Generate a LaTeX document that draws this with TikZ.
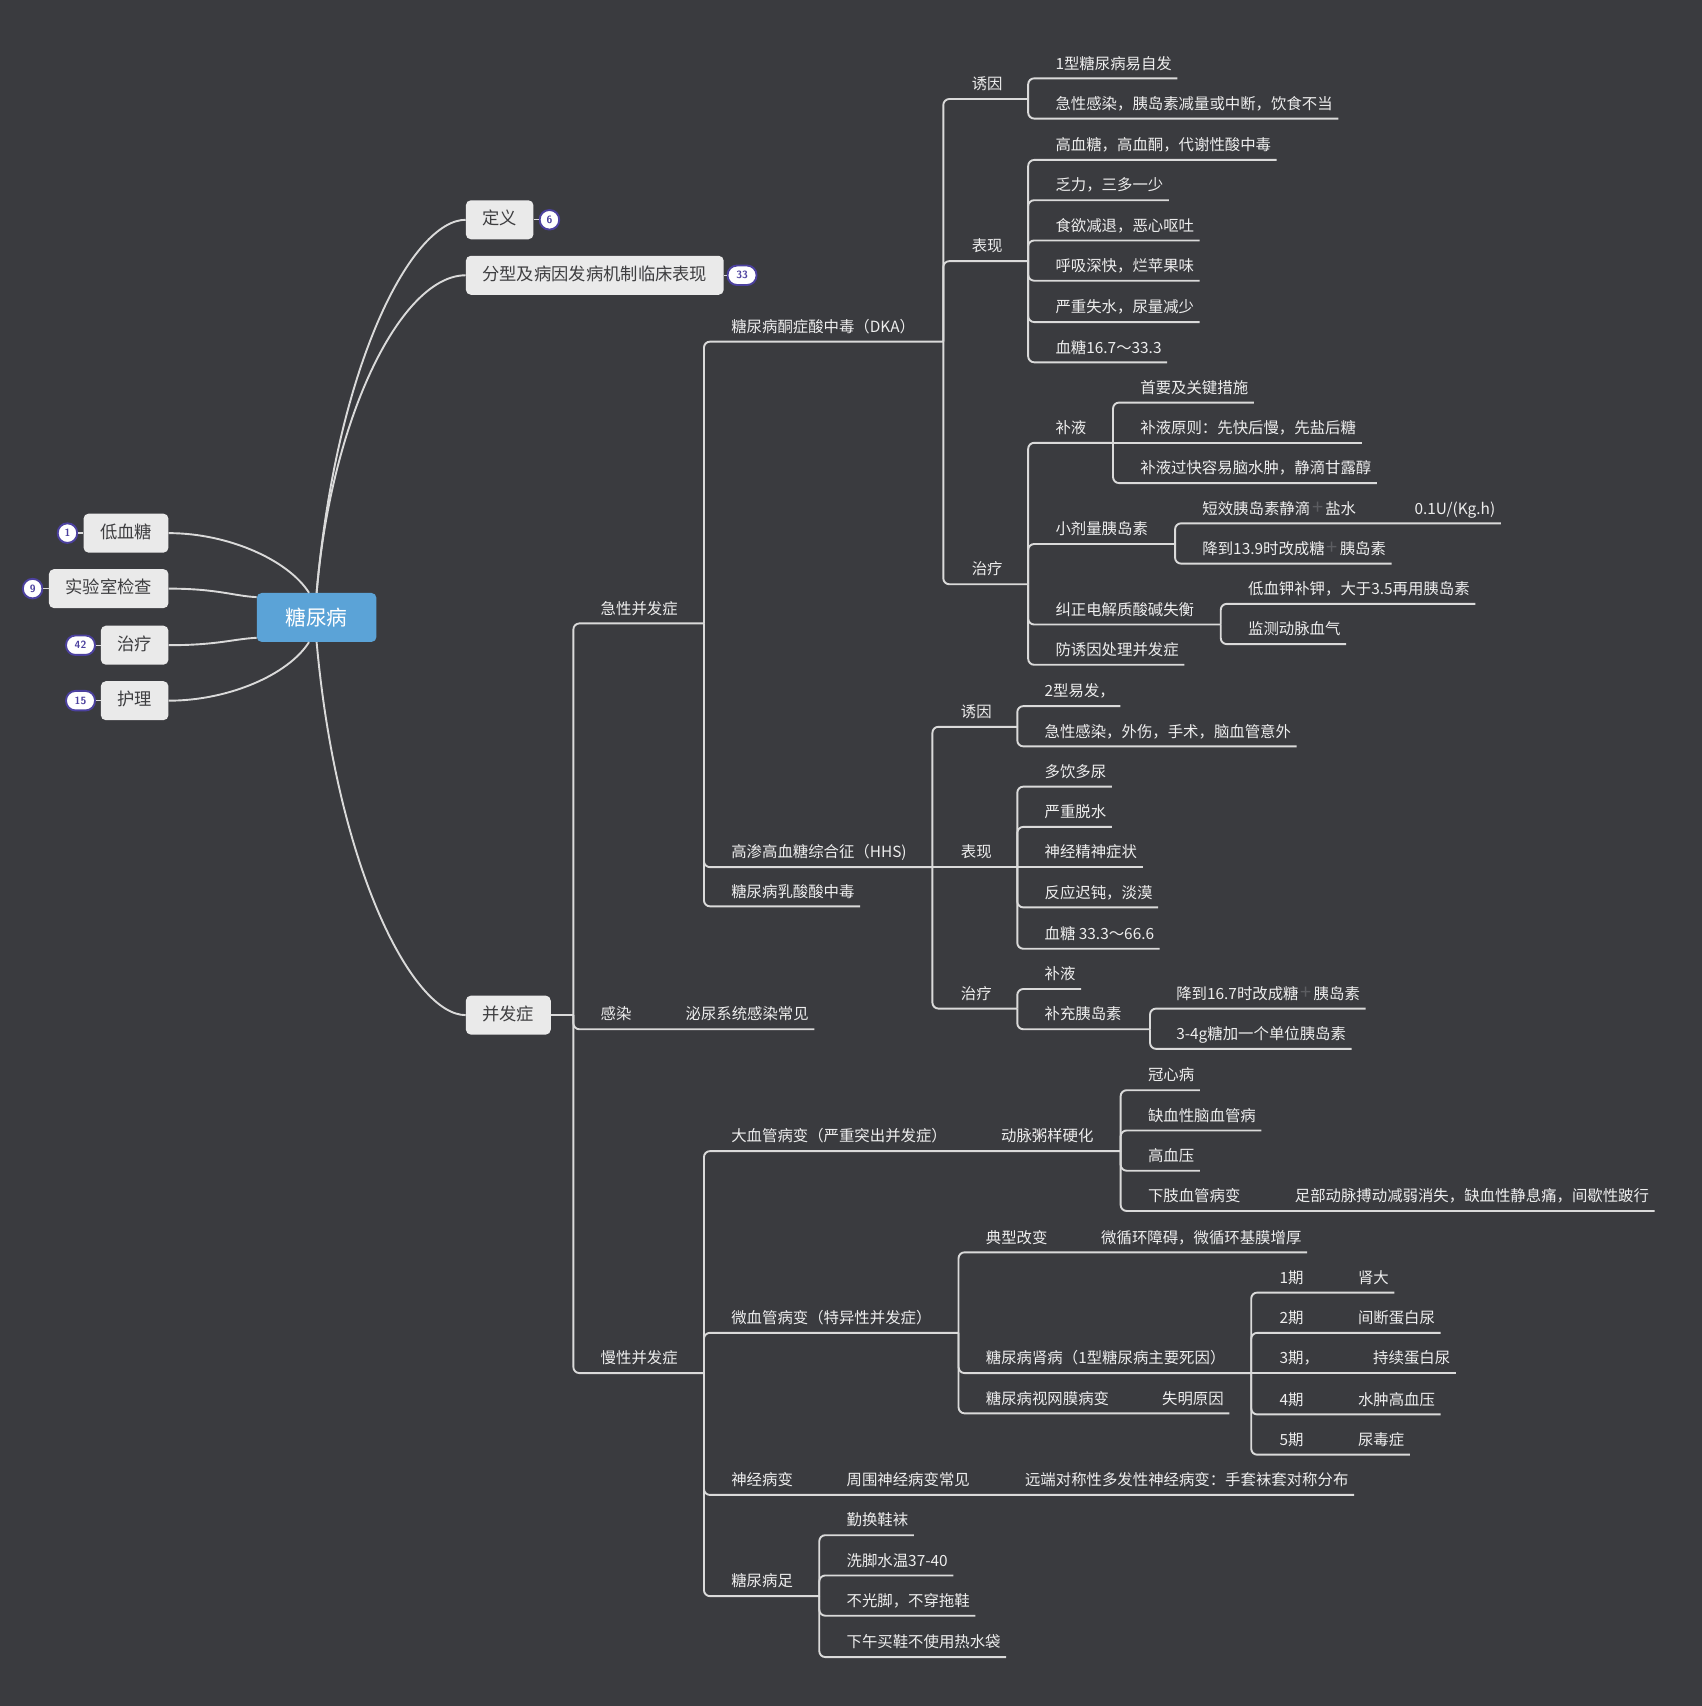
\documentclass[tikz,border=0pt]{standalone}
\usepackage{fontspec}
\usepackage{xcolor}
\usepackage{tikz}
\usetikzlibrary{calc}
\newfontfamily\cjk{Noto Sans CJK SC}
\definecolor{bg}{HTML}{3A3B3F}
\definecolor{wire}{HTML}{DADADA}
\definecolor{ink}{HTML}{EEEEEE}
\definecolor{boxfill}{HTML}{EAEAEA}
\definecolor{boxink}{HTML}{3E3E40}
\definecolor{rootblue}{HTML}{5BA3D7}
\definecolor{badgeink}{HTML}{4C419F}
\definecolor{plusgray}{HTML}{5C5D61}
\newcommand{\plusicon}{\hspace{2pt}\textcolor{plusgray}{\fontsize{20pt}{20pt}\selectfont +}\hspace{2pt}}
\tikzset{
  branch/.style={draw=wire, line width=1.9pt, rounded corners=6pt},
  curve/.style={draw=wire, line width=1.9pt},
  tick/.style={draw=wire, line width=1.4pt},
  leaf/.style={anchor=south west, text=ink, inner xsep=5.4pt, inner ysep=5.6pt,
    text height=12pt, text depth=3.5pt, font=\cjk\fontsize{15.4pt}{18pt}\selectfont},
  topic/.style={fill=boxfill, text=boxink, rounded corners=5pt, inner xsep=16.5pt,
    minimum height=39pt, text height=13.5pt, text depth=3.5pt,
    font=\cjk\fontsize{17.3pt}{20pt}\selectfont},
  rootbox/.style={fill=rootblue, text=white, rounded corners=5pt, minimum width=119.7pt,
    minimum height=49pt, font=\cjk\fontsize{20.7pt}{24pt}\selectfont},
  badge/.style={draw=badgeink, fill=white, line width=1.9pt, text=badgeink,
    rounded corners=9.5pt, minimum height=19.5pt, minimum width=19.5pt, inner xsep=3pt,
    inner ysep=0pt, font=\sffamily\bfseries\fontsize{10.5pt}{10.5pt}\selectfont},
  pill/.style={badge, minimum width=29pt},
}
\begin{document}
\begin{tikzpicture}[x=1.0882pt, y=-1.0882pt]
  \fill[bg] (0,0) rectangle (1564,1568);
  \useasboundingbox (0,0) rectangle (1564,1568);

  % root and first level
  \node[rootbox] (root) at (291,567.5) {糖尿病};
  \node[topic, anchor=west] (def) at (428,202) {定义};
  \node[topic, anchor=west] (typ) at (428,253) {分型及病因发病机制临床表现};
  \node[topic, anchor=west] (comp) at (428,933) {并发症};
  \node[topic, anchor=east] (hypo) at (155,490) {低血糖};
  \node[topic, anchor=east] (lab) at (155,541) {实验室检查};
  \node[topic, anchor=east] (treat) at (155,593) {治疗};
  \node[topic, anchor=east] (care) at (155,644) {护理};

  \draw[curve] (root.north) .. controls +(19,-215) and +(-48,0) .. (def.west);
  \draw[curve] (root.north) .. controls +(14,-165) and +(-58,0) .. (typ.west);
  \draw[curve] (root.south) .. controls +(19,210) and +(-48,0) .. (comp.west);
  \draw[curve] (hypo.east) .. controls +(55,0) and +(-19,-30) .. ($(root.north)+(-7,0)$);
  \draw[curve] (lab.east) .. controls +(45,0) and +(-21,-1) .. ($(root.north west)+(0,4)$);
  \draw[curve] (treat.east) .. controls +(45,0) and +(-21,1) .. ($(root.south west)+(0,-4)$);
  \draw[curve] (care.east) .. controls +(55,0) and +(-19,30) .. ($(root.south)+(-7,0)$);

  % counters
  \node[badge] (n-def) at (505,202) {6};
  \node[pill] (n-typ) at (682,253) {33};
  \node[badge] (n-hypo) at (62,490) {1};
  \node[badge] (n-lab) at (30,541) {9};
  \node[pill] (n-treat) at (74,593) {42};
  \node[pill] (n-care) at (74,644) {15};
  \draw[tick] (def) -- (n-def);
  \draw[tick] (typ) -- (n-typ);
  \draw[tick] (n-hypo) -- (hypo);
  \draw[tick] (n-lab) -- (lab);
  \draw[tick] (n-treat) -- (treat);
  \draw[tick] (n-care) -- (care);

  % complications
  \coordinate (cj) at (527,933);
  \draw[branch] (comp.east) -- (cj);
  \node[leaf] (acute) at (547,573) {急性并发症};
  \coordinate (aj) at (647,573);
  \draw[branch] (cj) |- (aj);
  \node[leaf] (inf) at (547,946) {感染};
  \node[leaf] (uti) at (625,946) {泌尿系统感染常见};
  \draw[branch] (cj) |- (uti.south east);
  \node[leaf] (chron) at (547,1262) {慢性并发症};
  \coordinate (chj) at (647,1262);
  \draw[branch] (cj) |- (chj);

  % DKA
  \node[leaf] (dka) at (667,314) {糖尿病酮症酸中毒（DKA）};
  \coordinate (dkaj) at (867,314);
  \draw[branch] (aj) |- (dkaj);
  \node[leaf] (d-cause) at (888,91) {诱因};
  \coordinate (d-cause-j) at (945,91);
  \draw[branch] (dkaj) |- (d-cause-j);
  \node[leaf] (d-c1) at (965,72) {1型糖尿病易自发};
  \node[leaf] (d-c2) at (965,109) {急性感染，胰岛素减量或中断，饮食不当};
  \draw[branch] (d-cause-j) |- (d-c1.south east);
  \draw[branch] (d-cause-j) |- (d-c2.south east);

  \node[leaf] (d-sign) at (888,240) {表现};
  \coordinate (d-sign-j) at (945,240);
  \draw[branch] (dkaj) |- (d-sign-j);
  \node[leaf] (d-s1) at (965,147) {高血糖，高血酮，代谢性酸中毒};
  \node[leaf] (d-s2) at (965,184) {乏力，三多一少};
  \node[leaf] (d-s3) at (965,221) {食欲减退，恶心呕吐};
  \node[leaf] (d-s4) at (965,258) {呼吸深快，烂苹果味};
  \node[leaf] (d-s5) at (965,296) {严重失水，尿量减少};
  \node[leaf] (d-s6) at (965,333) {血糖16.7～33.3};
  \draw[branch] (d-sign-j) |- (d-s1.south east);
  \draw[branch] (d-sign-j) |- (d-s2.south east);
  \draw[branch] (d-sign-j) |- (d-s3.south east);
  \draw[branch] (d-sign-j) |- (d-s4.south east);
  \draw[branch] (d-sign-j) |- (d-s5.south east);
  \draw[branch] (d-sign-j) |- (d-s6.south east);

  \node[leaf] (d-treat) at (888,537) {治疗};
  \coordinate (d-treat-j) at (945,537);
  \draw[branch] (dkaj) |- (d-treat-j);
  \node[leaf] (d-fluid) at (965,407) {补液};
  \coordinate (d-fluid-j) at (1023,407);
  \draw[branch] (d-treat-j) |- (d-fluid-j);
  \node[leaf] (d-f1) at (1043,370) {首要及关键措施};
  \node[leaf] (d-f2) at (1043,407) {补液原则：先快后慢，先盐后糖};
  \node[leaf] (d-f3) at (1043,444) {补液过快容易脑水肿，静滴甘露醇};
  \draw[branch] (d-fluid-j) |- (d-f1.south east);
  \draw[branch] (d-fluid-j) -- (d-f2.south east);
  \draw[branch] (d-fluid-j) |- (d-f3.south east);
  \node[leaf] (d-ins) at (965,500) {小剂量胰岛素};
  \coordinate (d-ins-j) at (1080,500);
  \draw[branch] (d-treat-j) |- (d-ins-j);
  \node[leaf] (d-i1) at (1100,481) {短效胰岛素静滴\plusicon 盐水};
  \node[leaf] (d-i1b) at (1295,481) {0.1U/(Kg.h)};
  \node[leaf] (d-i2) at (1100,518) {降到13.9时改成糖\plusicon 胰岛素};
  \draw[branch] (d-ins-j) |- (d-i1b.south east);
  \draw[branch] (d-ins-j) |- (d-i2.south east);
  \node[leaf] (d-elec) at (965,574) {纠正电解质酸碱失衡};
  \coordinate (d-elec-j) at (1122,574);
  \draw[branch] (d-treat-j) |- (d-elec-j);
  \node[leaf] (d-e1) at (1142,555) {低血钾补钾，大于3.5再用胰岛素};
  \node[leaf] (d-e2) at (1142,592) {监测动脉血气};
  \draw[branch] (d-elec-j) |- (d-e1.south east);
  \draw[branch] (d-elec-j) |- (d-e2.south east);
  \node[leaf] (d-prev) at (965,611) {防诱因处理并发症};
  \draw[branch] (d-treat-j) |- (d-prev.south east);

  % HHS
  \node[leaf] (hhs) at (667,797) {高渗高血糖综合征（HHS)};
  \coordinate (hhsj) at (857,797);
  \draw[branch] (aj) |- (hhsj);
  \node[leaf] (h-cause) at (878,668) {诱因};
  \coordinate (h-cause-j) at (935,668);
  \draw[branch] (hhsj) |- (h-cause-j);
  \node[leaf] (h-c1) at (955,649) {2型易发，};
  \node[leaf] (h-c2) at (955,686) {急性感染，外伤，手术，脑血管意外};
  \draw[branch] (h-cause-j) |- (h-c1.south east);
  \draw[branch] (h-cause-j) |- (h-c2.south east);
  \node[leaf] (h-sign) at (878,797) {表现};
  \coordinate (h-sign-j) at (935,797);
  \draw[branch] (hhsj) -- (h-sign-j);
  \node[leaf] (h-s1) at (955,723) {多饮多尿};
  \node[leaf] (h-s2) at (955,760) {严重脱水};
  \node[leaf] (h-s3) at (955,797) {神经精神症状};
  \node[leaf] (h-s4) at (955,834) {反应迟钝，淡漠};
  \node[leaf] (h-s5) at (955,872) {血糖 33.3～66.6};
  \draw[branch] (h-sign-j) |- (h-s1.south east);
  \draw[branch] (h-sign-j) |- (h-s2.south east);
  \draw[branch] (h-sign-j) -- (h-s3.south east);
  \draw[branch] (h-sign-j) |- (h-s4.south east);
  \draw[branch] (h-sign-j) |- (h-s5.south east);
  \node[leaf] (h-treat) at (878,927) {治疗};
  \coordinate (h-treat-j) at (935,927);
  \draw[branch] (hhsj) |- (h-treat-j);
  \node[leaf] (h-t1) at (955,909) {补液};
  \node[leaf] (h-t2) at (955,946) {补充胰岛素};
  \coordinate (h-t2-j) at (1057,946);
  \draw[branch] (h-treat-j) |- (h-t1.south east);
  \draw[branch] (h-treat-j) |- (h-t2-j);
  \node[leaf] (h-i1) at (1076,927) {降到16.7时改成糖\plusicon 胰岛素};
  \node[leaf] (h-i2) at (1076,964) {3-4g糖加一个单位胰岛素};
  \draw[branch] (h-t2-j) |- (h-i1.south east);
  \draw[branch] (h-t2-j) |- (h-i2.south east);

  \node[leaf] (lactic) at (667,833) {糖尿病乳酸酸中毒};
  \draw[branch] (aj) |- (lactic.south east);

  % chronic
  \node[leaf] (macro) at (667,1058) {大血管病变（严重突出并发症）};
  \node[leaf] (athero) at (915,1058) {动脉粥样硬化};
  \coordinate (athero-j) at (1030,1058);
  \draw[branch] (chj) |- (athero-j);
  \node[leaf] (m1) at (1050,1002) {冠心病};
  \node[leaf] (m2) at (1050,1039) {缺血性脑血管病};
  \node[leaf] (m3) at (1050,1076) {高血压};
  \node[leaf] (m4) at (1050,1113) {下肢血管病变};
  \node[leaf] (m4b) at (1185,1113) {足部动脉搏动减弱消失，缺血性静息痛，间歇性跛行};
  \draw[branch] (athero-j) |- (m1.south east);
  \draw[branch] (athero-j) |- (m2.south east);
  \draw[branch] (athero-j) |- (m3.south east);
  \draw[branch] (athero-j) |- (m4b.south east);

  \node[leaf] (micro) at (667,1225) {微血管病变（特异性并发症）};
  \coordinate (micro-j) at (881,1225);
  \draw[branch] (chj) |- (micro-j);
  \node[leaf] (typic) at (901,1151) {典型改变};
  \node[leaf] (typic-b) at (1007,1151) {微循环障碍，微循环基膜增厚};
  \draw[branch] (micro-j) |- (typic-b.south east);
  \node[leaf] (kid) at (901,1262) {糖尿病肾病（1型糖尿病主要死因）};
  \coordinate (kid-j) at (1150,1262);
  \draw[branch] (micro-j) |- (kid-j);
  \node[leaf] (k1) at (1171,1188) {1期};
  \node[leaf] (k1b) at (1243,1188) {肾大};
  \node[leaf] (k2) at (1171,1225) {2期};
  \node[leaf] (k2b) at (1243,1225) {间断蛋白尿};
  \node[leaf] (k3) at (1171,1262) {3期，};
  \node[leaf] (k3b) at (1257,1262) {持续蛋白尿};
  \node[leaf] (k4) at (1171,1300) {4期};
  \node[leaf] (k4b) at (1243,1300) {水肿高血压};
  \node[leaf] (k5) at (1171,1337) {5期};
  \node[leaf] (k5b) at (1243,1337) {尿毒症};
  \draw[branch] (kid-j) |- (k1b.south east);
  \draw[branch] (kid-j) |- (k2b.south east);
  \draw[branch] (kid-j) -- (k3b.south east);
  \draw[branch] (kid-j) |- (k4b.south east);
  \draw[branch] (kid-j) |- (k5b.south east);
  \node[leaf] (retina) at (901,1299) {糖尿病视网膜病变};
  \node[leaf] (retina-b) at (1063,1299) {失明原因};
  \draw[branch] (micro-j) |- (retina-b.south east);

  \node[leaf] (neuro) at (667,1374) {神经病变};
  \node[leaf] (neuro-b) at (773,1374) {周围神经病变常见};
  \node[leaf] (neuro-c) at (937,1374) {远端对称性多发性神经病变：手套袜套对称分布};
  \draw[branch] (chj) |- (neuro-c.south east);

  \node[leaf] (foot) at (667,1467) {糖尿病足};
  \coordinate (foot-j) at (753,1467);
  \draw[branch] (chj) |- (foot-j);
  \node[leaf] (f1) at (773,1411) {勤换鞋袜};
  \node[leaf] (f2) at (773,1448) {洗脚水温37-40};
  \node[leaf] (f3) at (773,1485) {不光脚，不穿拖鞋};
  \node[leaf] (f4) at (773,1523) {下午买鞋不使用热水袋};
  \draw[branch] (foot-j) |- (f1.south east);
  \draw[branch] (foot-j) |- (f2.south east);
  \draw[branch] (foot-j) |- (f3.south east);
  \draw[branch] (foot-j) |- (f4.south east);
\end{tikzpicture}
\end{document}
